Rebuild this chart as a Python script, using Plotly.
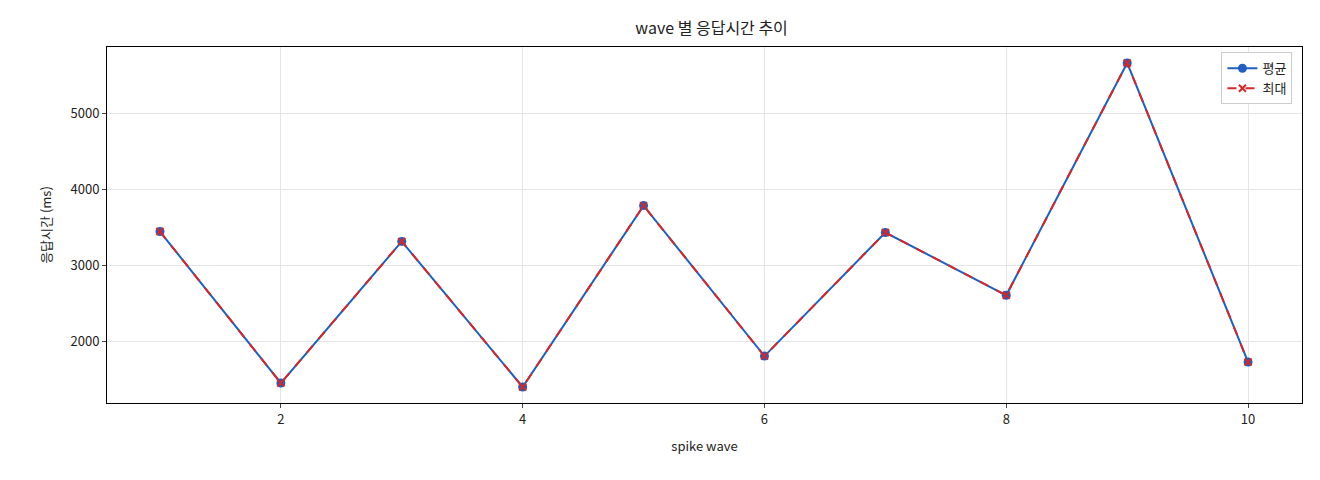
import plotly.graph_objects as go

waves = [1, 2, 3, 4, 5, 6, 7, 8, 9, 10]
avgMs = [3447, 1447, 3316, 1395, 3789, 1803, 3434, 2605, 5671, 1724]
maxMs = [3447, 1447, 3316, 1395, 3789, 1803, 3434, 2605, 5671, 1724]

fig = go.Figure()
fig.add_trace(go.Scatter(x=waves, y=avgMs, name="평균", mode="lines+markers",
                         line=dict(color="#1f5fbf", width=2),
                         marker=dict(size=9, color="#1f5fbf")))
fig.add_trace(go.Scatter(x=waves, y=maxMs, name="최대", mode="lines+markers",
                         line=dict(color="#d62728", width=2, dash="dash"),
                         marker=dict(size=7, symbol="x-thin", color="#d62728",
                                     line=dict(width=2, color="#d62728"))))

axis = dict(showline=True, linecolor="black", mirror=True, ticks="outside",
            ticklen=4, gridcolor="#e5e5e5", zeroline=False,
            tickfont=dict(size=13, color="#222"))
fig.update_layout(
    width=1320, height=480,
    paper_bgcolor="white", plot_bgcolor="white",
    font=dict(family="Noto Sans CJK KR", color="#222"),
    title=dict(text="wave 별 응답시간 추이", x=0.533, y=0.97, xanchor="center",
               font=dict(size=16)),
    margin=dict(l=99, r=26, t=39, b=85),
    xaxis=dict(axis, title=dict(text="spike wave", font=dict(size=13)),
               range=[0.562, 10.446], tickvals=[2, 4, 6, 8, 10]),
    yaxis=dict(axis, title=dict(text="응답시간 (ms)", font=dict(size=13)),
               range=[1184, 5882], tickvals=[2000, 3000, 4000, 5000]),
    legend=dict(x=0.992, y=0.985, xanchor="right", yanchor="top",
                bordercolor="#ccc", borderwidth=1, font=dict(size=13)),
)
fig.write_html("out.html")
